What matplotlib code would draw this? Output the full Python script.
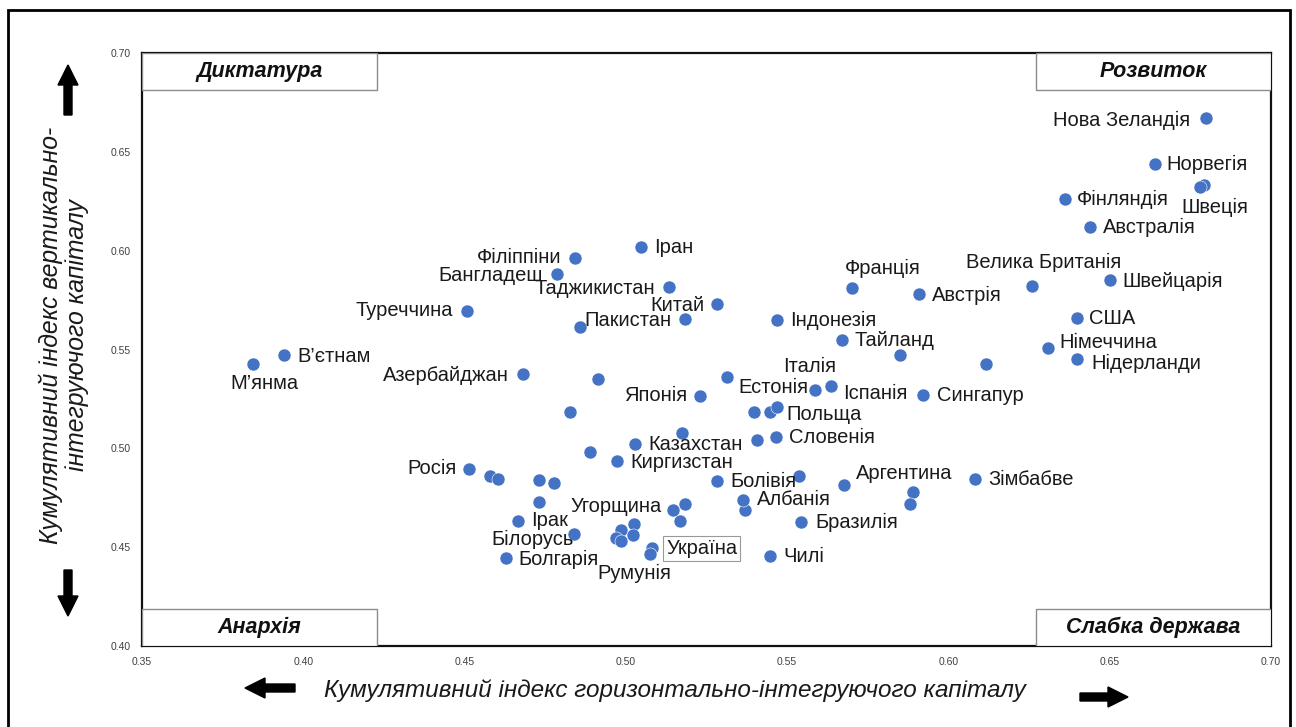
import matplotlib
matplotlib.use('Agg')
import matplotlib.pyplot as plt
from matplotlib.patches import Rectangle, FancyArrow

plt.rcParams['font.family'] = ['Liberation Sans', 'DejaVu Sans']

# --- дані: підписані країни ---
names = ['Нова Зеландія', 'Норвегія', 'Швеція', 'Фінляндія', 'Австралія',
         'Велика Британія', 'Швейцарія', 'США', 'Німеччина', 'Нідерланди',
         'Франція', 'Австрія', 'Тайланд', 'Індонезія', 'Сингапур',
         'Іспанія', 'Італія', 'Естонія', 'Польща', 'Словенія',
         'Японія', 'Казахстан', 'Киргизстан', 'Болівія', 'Албанія',
         'Аргентина', 'Зімбабве', 'Бразилія', 'Чилі', 'Україна',
         'Румунія', 'Болгарія', 'Білорусь', 'Ірак', 'Угорщина',
         'Росія', 'Азербайджан', 'Туреччина', 'В’єтнам', 'М’янма',
         'Філіппіни', 'Бангладеш', 'Іран', 'Таджикистан', 'Китай', 'Пакистан']
x_lab = [0.680, 0.664, 0.678, 0.636, 0.644,
         0.626, 0.650, 0.640, 0.631, 0.640,
         0.570, 0.591, 0.567, 0.547, 0.592,
         0.5636, 0.5586, 0.5447, 0.5469, 0.5466,
         0.523, 0.5028, 0.4973, 0.5283, 0.5363,
         0.5676, 0.6082, 0.5543, 0.5447, 0.5081,
         0.5075, 0.4628, 0.4839, 0.4666, 0.5146,
         0.4514, 0.4681, 0.4508, 0.394, 0.3844,
         0.4842, 0.4787, 0.5047, 0.5134, 0.5283, 0.5183]
y_lab = [0.667, 0.644, 0.632, 0.626, 0.612,
         0.582, 0.585, 0.566, 0.551, 0.545,
         0.581, 0.578, 0.555, 0.565, 0.527,
         0.5315, 0.5295, 0.5184, 0.5209, 0.5057,
         0.5265, 0.5022, 0.4936, 0.4835, 0.4739,
         0.4815, 0.4845, 0.4627, 0.4455, 0.4496,
         0.4465, 0.4445, 0.4567, 0.4632, 0.4688,
         0.4896, 0.5376, 0.5695, 0.5472, 0.5427,
         0.5963, 0.5882, 0.6018, 0.5816, 0.573, 0.5654]

# --- дані: непідписані точки ---
x_other = [0.6792, 0.4858, 0.4914, 0.4827, 0.5174, 0.4889, 0.4579, 0.4604,
           0.4731, 0.4777, 0.4731, 0.5183, 0.5168, 0.5025, 0.4985, 0.5022,
           0.4969, 0.4985, 0.5369, 0.5537, 0.5890, 0.5881, 0.5850, 0.6117,
           0.5314, 0.5397, 0.5407]
y_other = [0.6332, 0.5614, 0.5351, 0.5184, 0.5078, 0.4981, 0.4860, 0.4845,
           0.4840, 0.4825, 0.4729, 0.4718, 0.4632, 0.4617, 0.4587, 0.4562,
           0.4546, 0.4531, 0.4688, 0.4860, 0.4779, 0.4718, 0.5472, 0.5427,
           0.5361, 0.5184, 0.5042]

xticks = [0.35, 0.40, 0.45, 0.50, 0.55, 0.60, 0.65, 0.70]
yticks = [0.40, 0.45, 0.50, 0.55, 0.60, 0.65, 0.70]
corners = ['Диктатура', 'Розвиток', 'Анархія', 'Слабка держава']

# зсуви підписів у пікселях (dx, dy, вирівнювання)
offsets = [(-16, -2, 'right'), (12, -1, 'left'), (15, -20, 'center'), (12, 0, 'left'), (13, -1, 'left'),
           (11, 24, 'center'), (13, -1, 'left'), (12, -1, 'left'), (11, 5, 'left'), (14, -4, 'left'),
           (31, 20, 'center'), (13, -1, 'left'), (13, -1, 'left'), (13, -1, 'left'), (14, -1, 'left'),
           (12, -7, 'left'), (-5, 24, 'center'), (38, 24, 'right'), (9, -7, 'left'), (13, 0, 'left'),
           (-13, 0, 'right'), (13, -1, 'left'), (13, -2, 'left'), (13, -1, 'left'), (14, 0, 'left'),
           (12, 11, 'left'), (13, -1, 'left'), (14, 0, 'left'), (13, 0, 'left'), (14, -1, 'left'),
           (-16, -19, 'center'), (13, -1, 'left'), (-41, -6, 'center'), (13, 1, 'left'), (-11, 4, 'right'),
           (-12, 0, 'right'), (-14, -1, 'right'), (-14, 0, 'right'), (13, -1, 'left'), (11, -20, 'center'),
           (-14, 0, 'right'), (-14, -2, 'right'), (13, 0, 'left'), (-14, -1, 'right'), (-13, -1, 'right'),
           (-13, -1, 'right')]

blue = '#4472C4'

fig = plt.figure(figsize=(12.96, 7.27), dpi=100)
ax = fig.add_axes([142 / 1296, 1 - 646 / 727, 1129 / 1296, 593 / 727])

ax.scatter(x_other, y_other, s=88, color=blue, edgecolors='white', linewidths=0.4, zorder=3)
ax.scatter(x_lab, y_lab, s=88, color=blue, edgecolors='white', linewidths=0.4, zorder=3)

for name, xv, yv, (dx, dy, ha) in zip(names, x_lab, y_lab, offsets):
    kw = {}
    if name == 'Україна':
        kw['bbox'] = dict(boxstyle='square,pad=0.15', facecolor='white', edgecolor='#999999', linewidth=0.8)
    ax.annotate(name, (xv, yv), xytext=(dx, dy), textcoords='offset pixels',
                ha=ha, va='center', fontsize=14.5, color='#1a1a1a', zorder=4, **kw)

ax.set_xlim(0.35, 0.70)
ax.set_ylim(0.40, 0.70)
ax.set_xticks(xticks)
ax.set_yticks(yticks)
ax.set_xticklabels([f'{t:.2f}' for t in xticks])
ax.set_yticklabels([f'{t:.2f}' for t in yticks])
ax.tick_params(length=0, labelsize=7.5, labelcolor='#404040', pad=8)
for sp in ax.spines.values():
    sp.set_linewidth(1.6)
    sp.set_color('#111111')

# кутові блоки
bw, bh = 235 / 1129, 37 / 593
box_pos = [(0, 1 - bh), (1 - bw, 1 - bh), (0, 0), (1 - bw, 0)]
for label, (bx, by) in zip(corners, box_pos):
    ax.add_patch(Rectangle((bx, by), bw, bh, transform=ax.transAxes, facecolor='white',
                           edgecolor='#8c8c8c', linewidth=1.0, zorder=5))
    ax.text(bx + bw / 2, by + bh / 2, label, transform=ax.transAxes, ha='center', va='center',
            fontsize=15.5, fontweight='bold', fontstyle='italic', color='#111111', zorder=6)

# підписи осей
fig.text(675 / 1296, 1 - 690 / 727, 'Кумулятивний індекс горизонтально-інтегруючого капіталу',
         ha='center', va='center', fontsize=17.5, fontstyle='italic', color='#1a1a1a')
fig.text(64 / 1296, 1 - 335 / 727, 'Кумулятивний індекс вертикально-\nінтегруючого капіталу',
         ha='center', va='center', rotation=90, fontsize=17.8, fontstyle='italic',
         color='#1a1a1a', linespacing=1.1)

# стрілки (у дюймах)
arrow_kw = dict(width=0.08, head_width=0.2, head_length=0.2, length_includes_head=True,
                color='black', transform=fig.dpi_scale_trans)
fig.patches.append(FancyArrow(0.68, 7.27 - 1.15, 0, 0.5, **arrow_kw))
fig.patches.append(FancyArrow(0.68, 7.27 - 5.70, 0, -0.46, **arrow_kw))
fig.patches.append(FancyArrow(2.95, 7.27 - 6.88, -0.50, 0, **arrow_kw))
fig.patches.append(FancyArrow(10.80, 7.27 - 6.97, 0.48, 0, **arrow_kw))

# зовнішня рамка
fig.patches.append(Rectangle((0.08, -0.1), 12.82, 7.27 - 0.10 + 0.1, transform=fig.dpi_scale_trans,
                             fill=False, edgecolor='black', linewidth=2))

fig.savefig('out.png', dpi=100)
